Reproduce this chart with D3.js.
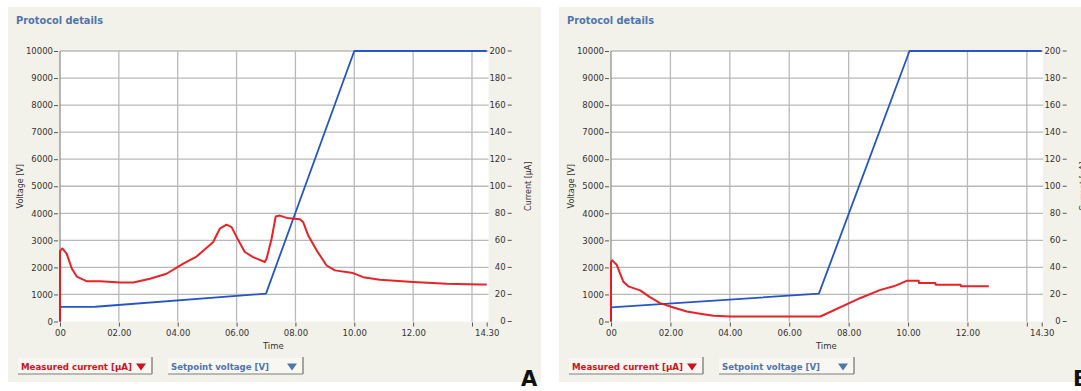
<!DOCTYPE html>
<html><head><meta charset="utf-8">
<script src="https://cdn.jsdelivr.net/npm/d3@7"></script>
<style>
html,body{margin:0;padding:0;background:#fff;}
svg{display:block;}
text{font-family:"DejaVu Sans",Verdana,sans-serif;}
</style></head>
<body><svg id="c" width="1081" height="391"></svg>
<script>
// ---- data ----
const timeTicks = [0, 2, 4, 6, 8, 10, 12, 14, 14.5];
const timeTickLabels = ["00", "02.00", "04.00", "06.00", "08.00", "10.00", "12.00", "", "14.30"];
const voltageTicks = [0, 1000, 2000, 3000, 4000, 5000, 6000, 7000, 8000, 9000, 10000];
const currentTicks = [0, 20, 40, 60, 80, 100, 120, 140, 160, 180, 200];

const voltageA_t = [0, 0, 1.2, 7.0, 10.0, 14.5];
const voltageA_v = [0, 540, 545, 1030, 10000, 10000];
const currentA_t = [0, 0, 0.08, 0.23, 0.4, 0.57, 0.9, 1.36, 2.04, 2.49, 3.06, 3.62, 4.19, 4.64, 5.2, 5.43, 5.66, 5.83, 6.06, 6.28, 6.56, 6.96, 7.02, 7.19, 7.33, 7.47, 7.7, 8.15, 8.26, 8.43, 8.72, 9.06, 9.34, 9.96, 10.3, 10.87, 12.0, 13.13, 14.26, 14.5];
const currentA_i = [0, 52, 54, 50, 39.2, 33.2, 29.8, 29.8, 28.8, 28.8, 31.6, 35.3, 42.8, 48, 58.6, 68.6, 71.6, 69.8, 60, 51.4, 47.6, 44, 46.4, 61.2, 77.6, 78.3, 76.6, 75.6, 73.6, 63.8, 52.6, 41.4, 37.8, 35.8, 32.8, 30.8, 29.2, 28, 27.4, 27.4];

const voltageB_t = [0, 0, 7.0, 10.05, 14.5];
const voltageB_v = [0, 520, 1030, 10000, 10000];
const currentB_t = [0, 0, 0.04, 0.19, 0.3, 0.41, 0.58, 0.98, 1.31, 1.65, 2.1, 2.55, 3.0, 3.45, 4.01, 7.05, 8.4, 9.07, 9.52, 9.74, 9.97, 10.36, 10.37, 10.92, 10.93, 11.77, 11.78, 12.72];
const currentB_i = [0, 44, 45.2, 42, 35.8, 29.6, 26, 23, 18, 13.6, 10.4, 7.4, 5.7, 4.2, 3.7, 3.7, 17.4, 23.4, 26, 28, 30.2, 30.2, 28.4, 28.4, 27.2, 27.2, 26, 26];

const panelTitle = "Protocol details";
const legendLabels = ["Measured current [\u00b5A]", "Setpoint voltage [V]"];
const axisTitles = {time: "Time", voltage: "Voltage [V]", current: "Current [\u00b5A]"};

// ---- drawing ----
const svg = d3.select("#c");
const RED = "#e8161c", BLUE = "#2656c4", BEIGE = "#f3f2ea", GRID = "#b9b9b9", TXT = "#333";
const fmt = d3.format("d");

function drawPanel(cfg) {
  const g = svg.append("g").attr("transform", `translate(${cfg.ox},0)`);
  const L = cfg.plotL, R = cfg.plotR, T = 51, B = 321.5;
  g.append("rect").attr("x", 8).attr("y", 7).attr("width", cfg.panelW).attr("height", 375).attr("fill", BEIGE);
  g.append("text").attr("x", 16).attr("y", 24).attr("fill", "#4f74b0").attr("font-weight", "bold")
    .attr("font-size", 10).attr("textLength", 87).attr("lengthAdjust", "spacingAndGlyphs").text(panelTitle);

  const x = d3.scaleLinear().domain([0, 14.5]).range([L, R]);
  const yV = d3.scaleLinear().domain([0, 10000]).range([B, T]);
  const yI = d3.scaleLinear().domain([0, 200]).range([B, T]);

  g.append("rect").attr("x", L).attr("y", T).attr("width", cfg.plotW).attr("height", B - T).attr("fill", "#fff");

  // grid
  g.append("g").selectAll("line").data(voltageTicks.filter(d => d > 0)).join("line")
    .attr("x1", L).attr("x2", cfg.plotW + L).attr("y1", d => yV(d)).attr("y2", d => yV(d))
    .attr("stroke", GRID).attr("stroke-width", 1.3);
  g.append("g").selectAll("line").data(timeTicks.filter(d => d > 0 && d < 14.5)).join("line")
    .attr("x1", d => x(d)).attr("x2", d => x(d)).attr("y1", T).attr("y2", B)
    .attr("stroke", GRID).attr("stroke-width", 1.3);
  g.append("line").attr("x1", L).attr("x2", L).attr("y1", T).attr("y2", B).attr("stroke", "#888").attr("stroke-width", 1.2);

  // left axis
  const axL = d3.axisLeft(yV).tickValues(voltageTicks).tickFormat(fmt).tickSize(4).tickPadding(1);
  const gl = g.append("g").attr("transform", `translate(${L - 2},0)`).call(axL);
  gl.select(".domain").remove();
  gl.selectAll("line").attr("stroke", "#555");
  gl.selectAll("text").attr("font-size", 8.5).attr("fill", TXT).attr("font-family", "'DejaVu Sans',sans-serif");

  // right axis (labels then dash)
  const gr = g.append("g");
  const rt = gr.selectAll("g").data(currentTicks).join("g").attr("transform", d => `translate(0,${yI(d)})`);
  rt.append("text").attr("x", R + 19).attr("dy", "0.32em").attr("text-anchor", "end")
    .attr("font-size", 8.5).attr("fill", TXT).text(d => fmt(d));
  rt.append("line").attr("x1", R + 21).attr("x2", R + 25).attr("stroke", "#555");

  // bottom axis
  const axB = d3.axisBottom(x).tickValues(timeTicks).tickFormat((d, i) => timeTickLabels[i]).tickSize(4).tickPadding(3);
  const gb = g.append("g").attr("transform", `translate(0,${B + 1})`).call(axB);
  gb.select(".domain").remove();
  gb.selectAll("line").attr("stroke", "#555");
  gb.selectAll("text").attr("font-size", 8.5).attr("fill", TXT).attr("font-family", "'DejaVu Sans',sans-serif");

  // axis titles
  g.append("text").attr("x", (L + R) / 2).attr("y", 349).attr("text-anchor", "middle").attr("font-size", 8.5).attr("fill", TXT).text(axisTitles.time);
  g.append("text").attr("transform", `translate(23,${(T + B) / 2}) rotate(-90)`).attr("text-anchor", "middle").attr("font-size", 8).attr("fill", TXT).text(axisTitles.voltage);
  g.append("text").attr("transform", `translate(${R + 44},${(T + B) / 2}) rotate(-90)`).attr("text-anchor", "middle").attr("font-size", 8).attr("fill", TXT).text(axisTitles.current);

  // lines
  const lineV = d3.line().x(d => x(d[0])).y(d => yV(d[1]));
  const lineI = d3.line().x(d => x(d[0])).y(d => yI(d[1]));
  g.append("path").datum(cfg.vt.map((t, i) => [t, cfg.vv[i]])).attr("d", lineV)
    .attr("fill", "none").attr("stroke", BLUE).attr("stroke-width", 1.8).attr("stroke-linejoin", "round");
  g.append("path").datum(cfg.it.map((t, i) => [t, cfg.iv[i]])).attr("d", lineI)
    .attr("fill", "none").attr("stroke", RED).attr("stroke-width", 2).attr("stroke-linejoin", "round").attr("opacity", 0.95);

  // legend buttons
  const btns = [{x: 18, w: 134, tw: 111, label: legendLabels[0], col: "#d0121c"}, {x: 168, w: 135, tw: 98, label: legendLabels[1], col: "#4f74b0"}];
  btns.forEach(b => {
    const bg = g.append("g");
    bg.append("rect").attr("x", b.x).attr("y", 358).attr("width", b.w).attr("height", 16).attr("fill", "#f8f7f2");
    bg.append("line").attr("x1", b.x).attr("x2", b.x + b.w).attr("y1", 374).attr("y2", 374).attr("stroke", "#a5a5a0").attr("stroke-width", 1.5);
    bg.append("line").attr("x1", b.x + b.w).attr("x2", b.x + b.w).attr("y1", 357).attr("y2", 374).attr("stroke", "#8a8a85").attr("stroke-width", 1.5);
    bg.append("text").attr("x", b.x + 3).attr("y", 370).attr("font-size", 9.5).attr("font-weight", "bold")
      .attr("textLength", b.tw).attr("lengthAdjust", "spacingAndGlyphs").attr("fill", b.col).text(b.label);
    const ax = b.x + b.w - 11;
    bg.append("path").attr("d", `M${ax - 5},363.5 L${ax + 5},363.5 L${ax},370.5 Z`).attr("fill", b.col);
  });

  g.append("text").attr("x", cfg.letterX).attr("y", 386).attr("font-family", "'Liberation Serif','Times New Roman',serif")
    .attr("font-weight", "bold").attr("font-size", 21).attr("fill", "#111").text(cfg.letter);
}

drawPanel({ox: 0, plotL: 60, plotR: 486.7, plotW: 428.5, panelW: 533, vt: voltageA_t, vv: voltageA_v, it: currentA_t, iv: currentA_i, letter: "A", letterX: 521});
drawPanel({ox: 551, plotL: 60, plotR: 490.7, plotW: 432, panelW: 540, vt: voltageB_t, vv: voltageB_v, it: currentB_t, iv: currentB_i, letter: "B", letterX: 522});
</script></body></html>
